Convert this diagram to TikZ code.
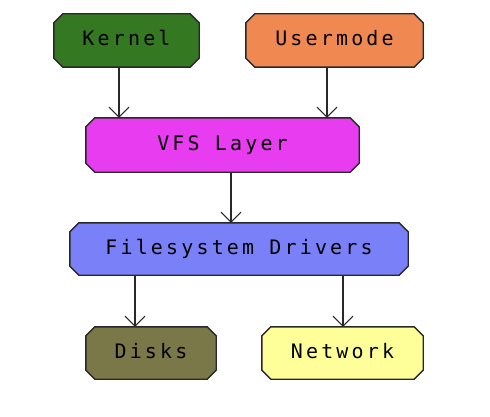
\documentclass[tikz,border=0pt]{standalone}
\usepackage{fontspec}
\setmonofont{DejaVu Sans Mono}[LetterSpace=16,Scale=1.05]
\usetikzlibrary{arrows.meta,backgrounds}
\definecolor{kernelc}{RGB}{52,120,34}
\definecolor{userc}{RGB}{240,136,82}
\definecolor{vfsc}{RGB}{232,60,240}
\definecolor{fsc}{RGB}{122,128,248}
\definecolor{diskc}{RGB}{122,120,72}
\definecolor{netc}{RGB}{255,255,153}
\definecolor{linec}{RGB}{40,40,40}
\newcommand\octo[2]{%
  \begin{scope}[on background layer]
  \draw[octline, fill=#2] ([xshift=9pt]#1.north west) -- ([xshift=-9pt]#1.north east)
    -- ([yshift=-9pt]#1.north east) -- ([yshift=9pt]#1.south east)
    -- ([xshift=-9pt]#1.south east) -- ([xshift=9pt]#1.south west)
    -- ([yshift=9pt]#1.south west) -- ([yshift=-9pt]#1.north west) -- cycle;
  \end{scope}}
\tikzset{
  box/.style={rectangle, inner sep=0pt, text=black,
    font=\ttfamily\fontsize{19}{19}\selectfont, text height=13pt, text depth=3pt},
  octline/.style={draw=linec, line width=1.4pt, line join=miter},
  arr/.style={draw=linec, line width=1.3pt, -{Straight Barb[length=10pt,width=20pt,line width=1pt]}}
}
\begin{document}
\begin{tikzpicture}[x=1pt,y=1pt]
\begin{scope}[on background layer]
\fill[white] (0,0) rectangle (490,416);
\end{scope}
\useasboundingbox (0,0) rectangle (490,416);
\node[box, minimum width=145pt, minimum height=53pt] (kernel) at (126.5,375.5) {Kernel};
\node[box, minimum width=177pt, minimum height=53pt] (user) at (334.5,375.5) {Usermode};
\node[box, minimum width=273pt, minimum height=54pt] (vfs) at (222.5,271) {VFS Layer};
\node[box, minimum width=338pt, minimum height=52pt] (fs) at (239,167) {Filesystem Drivers};
\node[box, minimum width=130pt, minimum height=52pt] (disks) at (151,63) {Disks};
\node[box, minimum width=161pt, minimum height=52pt] (net) at (342.5,63) {Network};
\octo{kernel}{kernelc}
\octo{user}{userc}
\octo{vfs}{vfsc}
\octo{fs}{fsc}
\octo{disks}{diskc}
\octo{net}{netc}
\draw[arr] ([xshift=-7.5pt]kernel.south) -- ([xshift=-7.5pt]kernel.south |- vfs.north);
\draw[arr] ([xshift=-7.5pt]user.south) -- ([xshift=-7.5pt]user.south |- vfs.north);
\draw[arr] ([xshift=8.5pt]vfs.south) -- ([xshift=8.5pt]vfs.south |- fs.north);
\draw[arr] ([xshift=-16pt]disks.north |- fs.south) -- ([xshift=-16pt]disks.north);
\draw[arr] ([xshift=0.5pt]net.north |- fs.south) -- ([xshift=0.5pt]net.north);
\end{tikzpicture}
\end{document}
